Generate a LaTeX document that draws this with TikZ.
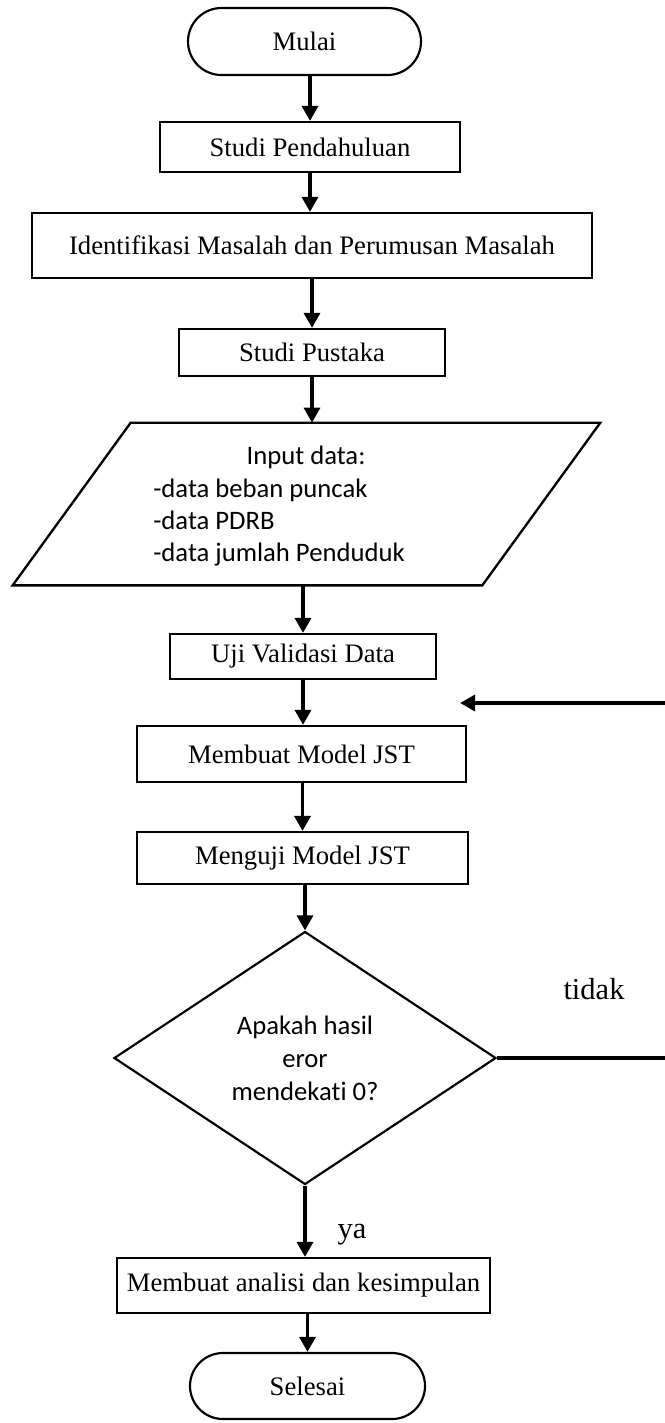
\documentclass[tikz,border=0pt]{standalone}
\usepackage{fontspec}
\setmainfont{Liberation Serif}
\newfontfamily\calib[Ligatures=NoCommon]{Carlito}
\usetikzlibrary{shapes.misc,shapes.geometric,arrows.meta,calc}
\begin{document}
\begin{tikzpicture}[x=0.6pt,y=-0.6pt,
  box/.style={draw,line width=1.3pt,rectangle,inner sep=0pt,font=\fontsize{16}{19.2}\selectfont},
  term/.style={draw,line width=1.3pt,rounded rectangle,inner sep=0pt,font=\fontsize{16}{19.2}\selectfont},
  decis/.style={draw,line width=1.3pt,diamond,inner sep=0pt,align=center,font=\calib\fontsize{16}{19.8}\selectfont},
  arr/.style={line width=2.2pt,-{Triangle[length=9pt,width=9.5pt]}},
  fline/.style={line width=2pt},
  lbl/.style={inner sep=0pt,anchor=base,font=\fontsize{18.3}{22}\selectfont}]
\useasboundingbox (0,0) rectangle (665,1423);
\fill[white] (0,0) rectangle (665,1423);

\node[term,minimum width=139.8pt,minimum height=40.2pt] (mulai) at (304.5,41.5) {Mulai};
\node[box,minimum width=180pt,minimum height=30pt] (studip) at (310,147) {Studi Pendahuluan};
\node[box,minimum width=336pt,minimum height=39pt] (ident) at (312,245.5) {Identifikasi Masalah dan Perumusan Masalah};
\node[box,minimum width=159.6pt,minimum height=28.2pt] (pustaka) at (312,352.5) {Studi Pustaka};

\node[inner sep=0pt,minimum width=352.2pt,minimum height=97.2pt] (para) at (306.5,504) {};
\draw[line width=1.4pt,line join=miter] ($(para.north west)+(118,0)$) -- (para.north east)
  -- ($(para.south east)-(118,0)$) -- (para.south west) -- cycle;
\node[inner sep=0pt,align=left,anchor=west,font=\calib\fontsize{16}{19.4}\selectfont] (paratxt) at (153,506.5)
  {\hspace*{56pt}Input data:\\-data beban puncak\\-data PDRB\\-data jumlah Penduduk};

\node[box,minimum width=159.6pt,minimum height=27pt] (uji) at (303,656.5) {Uji Validasi Data};
\node[box,minimum width=197.4pt,minimum height=33.6pt] (model) at (301.5,754) {Membuat Model JST};
\node[box,minimum width=198.6pt,minimum height=31.2pt] (uji2) at (302.5,858) {Menguji Model JST};
\node[decis,minimum width=229.2pt,minimum height=151.8pt] (dec) at (305,1058) {Apakah hasil\\eror\\mendekati 0?};
\node[box,minimum width=223.8pt,minimum height=33pt] (anal) at (303.5,1285.5) {Membuat analisi dan kesimpulan};
\node[term,minimum width=141pt,minimum height=39.6pt] (selesai) at (307.5,1386) {Selesai};

\node[lbl] (tidak) at (594,999) {tidak};
\node[lbl] (ya) at (352,1238) {ya};

\draw[arr] (mulai.south -| studip.north) -- (studip.north);
\draw[arr] (studip.south) -- (studip.south |- ident.north);
\draw[arr] (ident.south -| pustaka.north) -- (pustaka.north);
\draw[arr] (pustaka.south) -- (pustaka.south |- para.north);
\draw[arr] (para.south -| uji.north) -- (uji.north);
\draw[arr] (uji.south) -- (uji.south |- model.north);
\draw[arr] (model.south -| uji2.north) -- (uji2.north);
\draw[arr] (uji2.south -| dec.north) -- (dec.north);
\draw[arr] (dec.south) -- (dec.south |- anal.north);
\draw[arr] (anal.south -| selesai.north) -- (selesai.north);

\coordinate (fbA) at (665,1058);
\coordinate (fbB) at (665,703);
\coordinate (fbC) at (460,703);
\draw[fline] (dec.east) -- (fbA);
\draw[arr] (fbB) -- (fbC);
\end{tikzpicture}
\end{document}
